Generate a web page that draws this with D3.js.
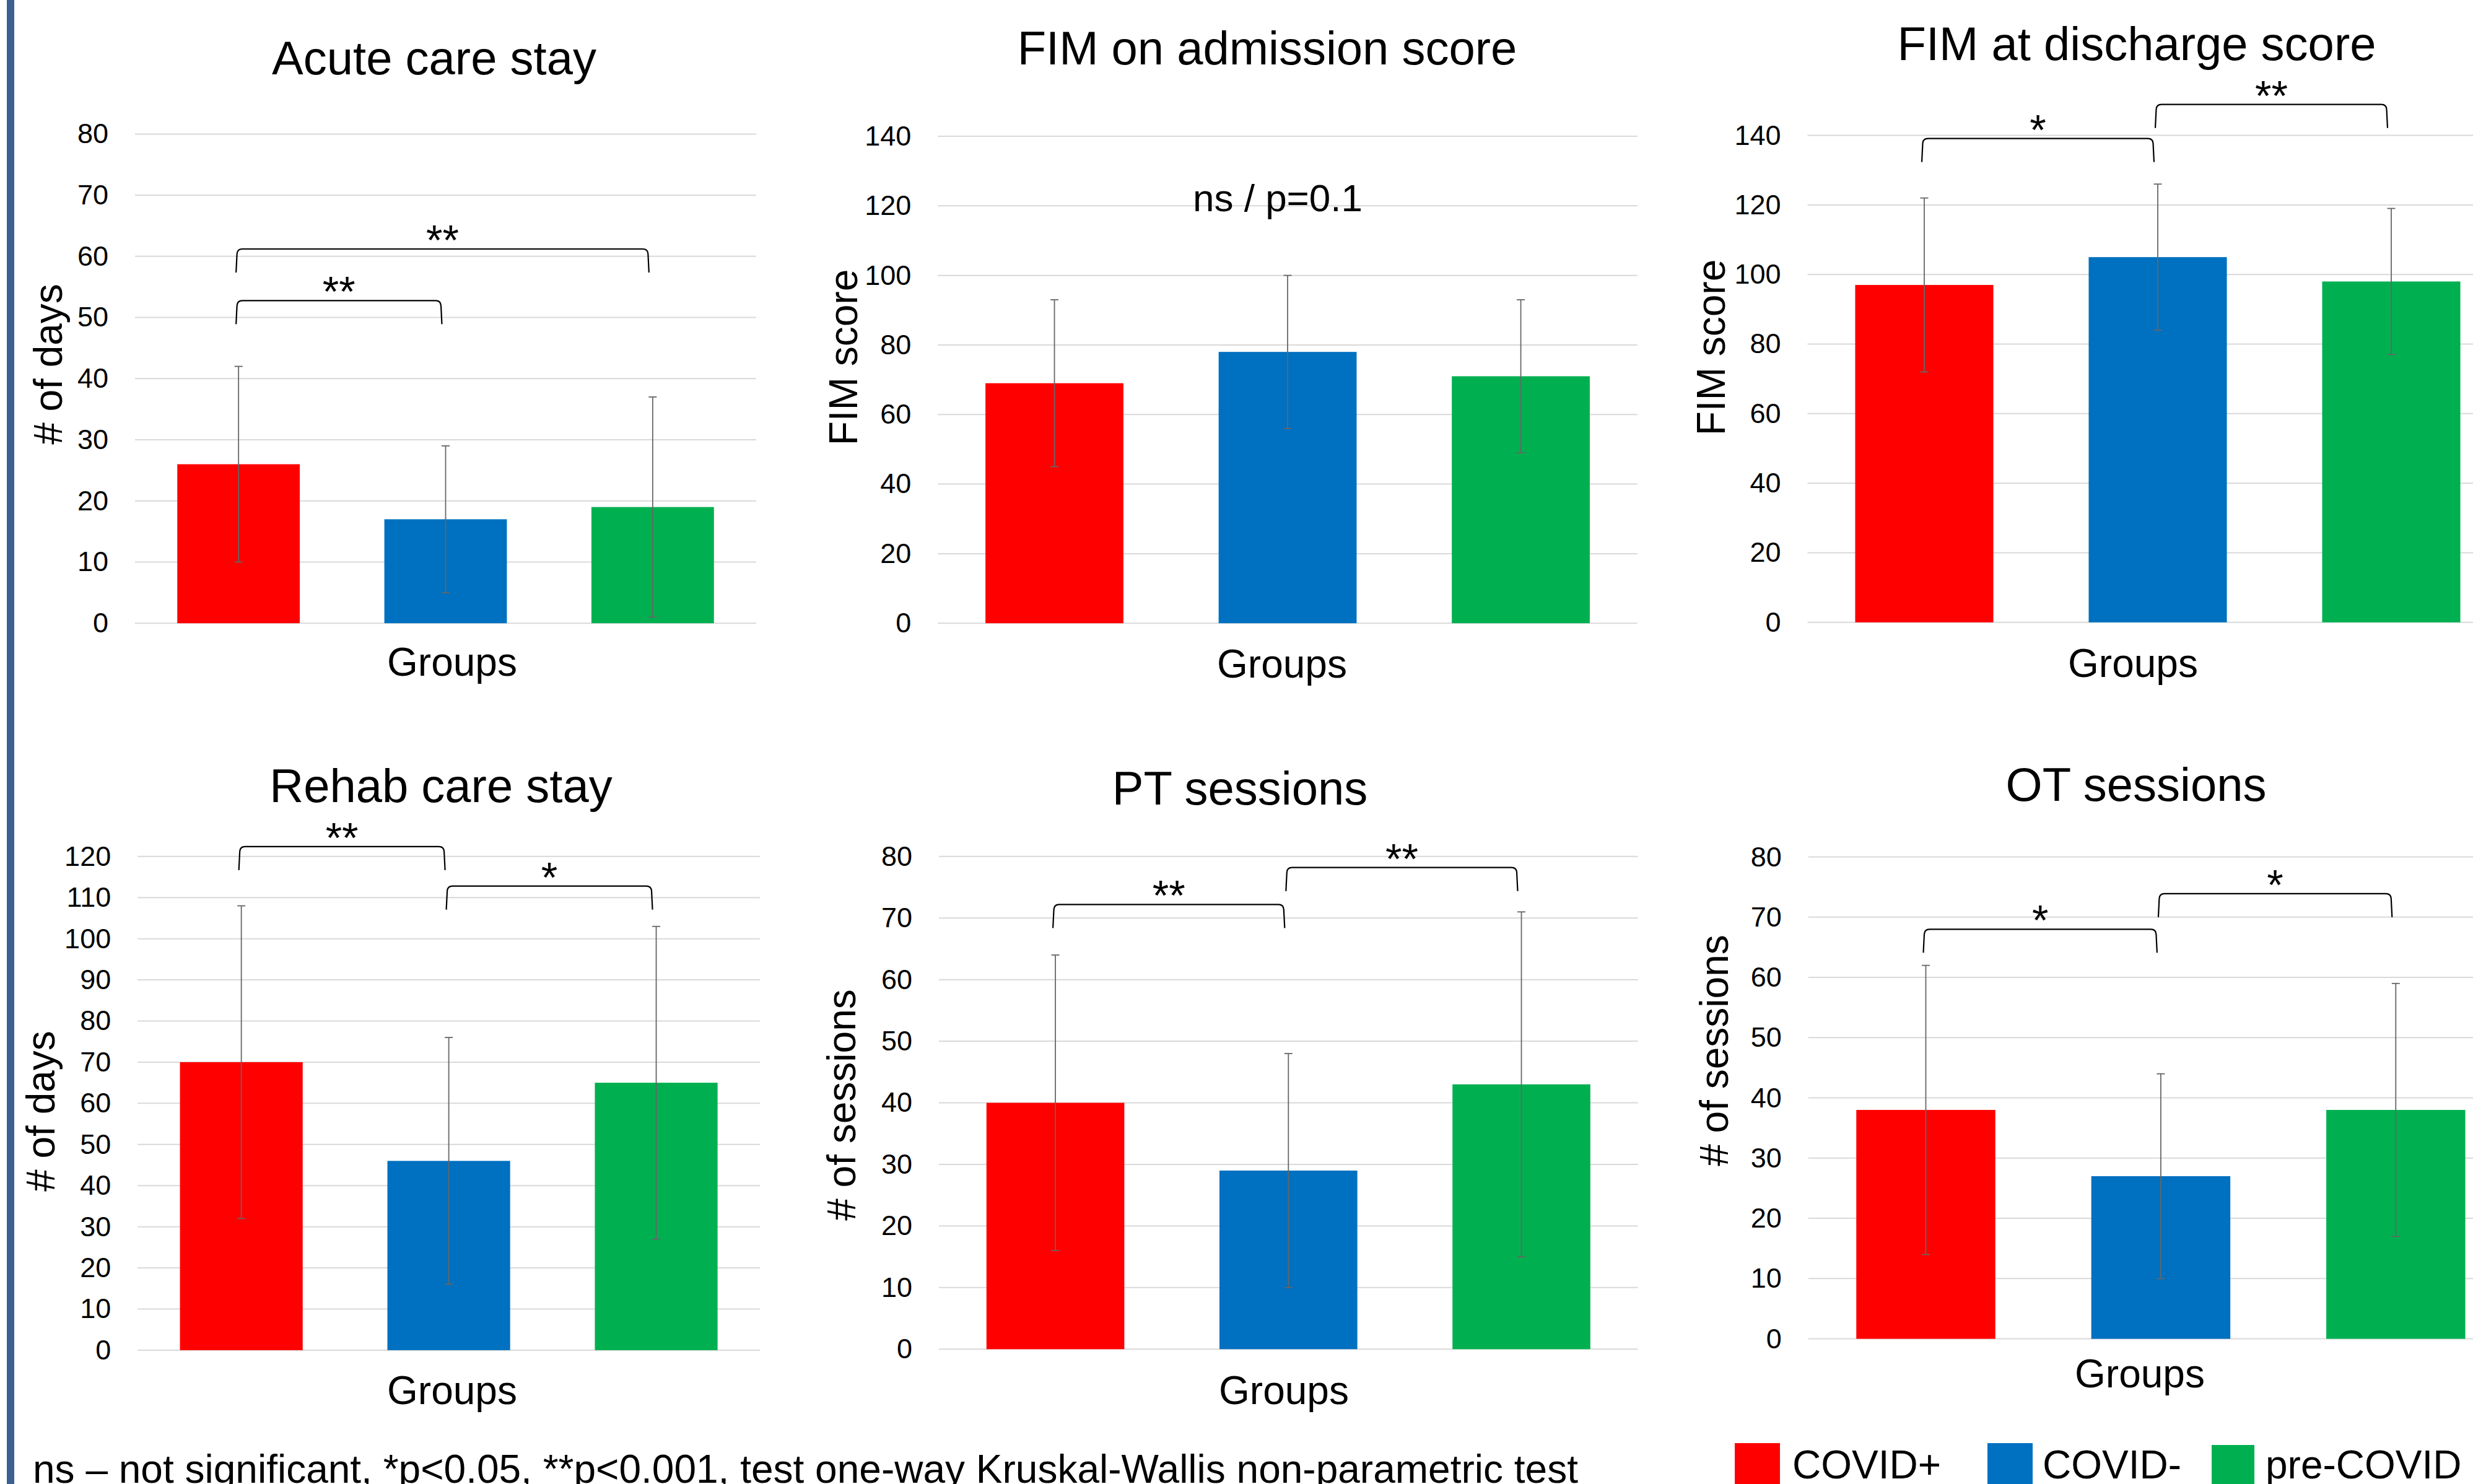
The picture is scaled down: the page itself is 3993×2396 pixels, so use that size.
<!DOCTYPE html>
<html>
<head>
<meta charset="utf-8">
<script src="https://cdn.jsdelivr.net/npm/d3@7"></script>
<style>
  html, body { margin: 0; padding: 0; background: #ffffff; }
  svg { display: block; }
  text { font-family: "Liberation Sans", Arial, Helvetica, sans-serif; fill: #000; }
</style>
</head>
<body>
<script>
// ---------------- DATA ----------------
const groups = ["COVID+", "COVID-", "pre-COVID"];
const groupColors = ["#FF0000", "#0070C0", "#00B050"];

const titles = ["Acute care stay", "FIM on admission score", "FIM at discharge score",
                "Rehab care stay", "PT sessions", "OT sessions"];
const yLabels = ["# of days", "FIM score", "FIM score", "# of days", "# of sessions", "# of sessions"];
const xLabel = "Groups";

const acuteMean  = [26, 17, 19];   const acuteSD  = [16, 12, 18];
const fimAdmMean = [69, 78, 71];   const fimAdmSD = [24, 22, 22];
const fimDisMean = [97, 105, 98];  const fimDisSD = [25, 21, 21];
const rehabMean  = [70, 46, 65];   const rehabSD  = [38, 30, 38];
const ptMean     = [40, 29, 43];   const ptSD     = [24, 19, 28];
const otMean     = [38, 27, 38];   const otSD     = [24, 17, 21];

const ticks80  = [0, 10, 20, 30, 40, 50, 60, 70, 80];
const ticks140 = [0, 20, 40, 60, 80, 100, 120, 140];
const ticks120 = [0, 10, 20, 30, 40, 50, 60, 70, 80, 90, 100, 110, 120];

// significance brackets: [fromGroup, toGroup, level (axis units), label]
const acuteBrackets  = [[0, 2, 61.2, "**"], [0, 1, 52.75, "**"]];
const fimAdmBrackets = [];
const fimDisBrackets = [[0, 1, 139.1, "*"], [1, 2, 148.9, "**"]];
const rehabBrackets  = [[0, 1, 122.4, "**"], [1, 2, 112.8, "*"]];
const ptBrackets     = [[0, 1, 72.2, "**"], [1, 2, 78.2, "**"]];
const otBrackets     = [[0, 1, 68.0, "*"], [1, 2, 73.9, "*"]];

const fimAdmNote = "ns / p=0.1";
const noteText = "ns \u2013 not significant, *p<0.05, **p<0.001, test one-way Kruskal-Wallis non-parametric test";

const panels = [
  { means: acuteMean,  sds: acuteSD,  ticks: ticks80,  brackets: acuteBrackets,  note: null },
  { means: fimAdmMean, sds: fimAdmSD, ticks: ticks140, brackets: fimAdmBrackets, note: fimAdmNote },
  { means: fimDisMean, sds: fimDisSD, ticks: ticks140, brackets: fimDisBrackets, note: null },
  { means: rehabMean,  sds: rehabSD,  ticks: ticks120, brackets: rehabBrackets,  note: null },
  { means: ptMean,     sds: ptSD,     ticks: ticks80,  brackets: ptBrackets,     note: null },
  { means: otMean,     sds: otSD,     ticks: ticks80,  brackets: otBrackets,     note: null }
];

// ---------------- LAYOUT ----------------
const W = 3993, H = 2396;
const layout = [
  { x0: 218,    x1: 1221,   yTop: 216.4,  yBot: 1006.2, tX: 701,  tY: 120,  gX: 730,  gY: 1091, lX: 100,  lY: 588 },
  { x0: 1514.3, x1: 2643.8, yTop: 220,    yBot: 1006.2, tX: 2046, tY: 104,  gX: 2070, gY: 1094, lX: 1384, lY: 577, nX: 2063, nY: 341 },
  { x0: 2918.5, x1: 4049.5, yTop: 218.6,  yBot: 1004.8, tX: 3450, tY: 97,   gX: 3444, gY: 1093, lX: 2785, lY: 561 },
  { x0: 222.2,  x1: 1227,   yTop: 1382.8, yBot: 2179.9, tX: 712,  tY: 1295, gX: 730,  gY: 2267, lX: 88,   lY: 1794 },
  { x0: 1516,   x1: 2644.6, yTop: 1382.8, yBot: 2178.3, tX: 2002, tY: 1299, gX: 2073, gY: 2267, lX: 1381, lY: 1784 },
  { x0: 2919.8, x1: 4058,   yTop: 1383.6, yBot: 2161.6, tX: 3449, tY: 1293, gX: 3455, gY: 2240, lX: 2790, lY: 1696 }
];
const legendLayout = [
  { sx: 2801, sy: 2330, sw: 73, tx: 2894 },
  { sx: 3209, sy: 2330, sw: 73, tx: 3298 },
  { sx: 3571, sy: 2333, sw: 69, tx: 3658 }
];

const svg = d3.select("body").append("svg")
  .attr("width", W).attr("height", H).attr("viewBox", `0 0 ${W} ${H}`);

svg.append("rect").attr("width", W).attr("height", H).attr("fill", "#ffffff");

// left border stripe
svg.append("rect").attr("x", 11).attr("y", 0).attr("width", 12).attr("height", H).attr("fill", "#3A6191");

panels.forEach((p, i) => {
  const L = layout[i];
  const g = svg.append("g");
  const yMax = p.ticks[p.ticks.length - 1];
  const y = d3.scaleLinear().domain([0, yMax]).range([L.yBot, L.yTop]);
  const x = d3.scaleBand().domain(groups).range([L.x0, L.x1])
    .paddingInner(0.4083).paddingOuter(0.2041);

  // gridlines
  g.append("g").selectAll("line").data(p.ticks).join("line")
    .attr("x1", L.x0).attr("x2", L.x1)
    .attr("y1", d => y(d)).attr("y2", d => y(d))
    .attr("stroke", "#d9d9d9").attr("stroke-width", 2);

  // y axis labels
  const ax = g.append("g").attr("transform", `translate(${L.x0},0)`)
    .call(d3.axisLeft(y).tickValues(p.ticks).tickSize(0).tickPadding(43).tickFormat(d3.format("d")));
  ax.select(".domain").remove();
  ax.selectAll("text").attr("font-size", 45)
    .attr("font-family", '"Liberation Sans", Arial, sans-serif').attr("fill", "#000");

  // bars
  g.append("g").selectAll("rect").data(groups).join("rect")
    .attr("x", d => x(d)).attr("width", x.bandwidth())
    .attr("y", (d, k) => y(p.means[k]))
    .attr("height", (d, k) => y(0) - y(p.means[k]))
    .attr("fill", (d, k) => groupColors[k]);

  // error bars
  const eb = g.append("g").attr("stroke", "#666666").attr("stroke-width", 1.8);
  groups.forEach((d, k) => {
    const cx = x(d) + x.bandwidth() / 2;
    const hi = y(p.means[k] + p.sds[k]), lo = y(p.means[k] - p.sds[k]);
    eb.append("line").attr("x1", cx).attr("x2", cx).attr("y1", hi).attr("y2", lo);
    eb.append("line").attr("x1", cx - 6.5).attr("x2", cx + 6.5).attr("y1", hi).attr("y2", hi);
    eb.append("line").attr("x1", cx - 6.5).attr("x2", cx + 6.5).attr("y1", lo).attr("y2", lo);
  });

  // significance brackets
  const drop = 38, r = 8;
  p.brackets.forEach(b => {
    const xl = x(groups[b[0]]) + x.bandwidth() / 2 - 4;
    const xr = x(groups[b[1]]) + x.bandwidth() / 2 - 6;
    const yl = y(b[2]);
    const path = d3.path();
    path.moveTo(xl, yl + drop);
    path.lineTo(xl + 1.5, yl + r);
    path.quadraticCurveTo(xl + 2, yl, xl + r + 2, yl);
    path.lineTo(xr - r - 2, yl);
    path.quadraticCurveTo(xr - 2, yl, xr - 1.5, yl + r);
    path.lineTo(xr, yl + drop);
    g.append("path").attr("d", path.toString()).attr("fill", "none")
      .attr("stroke", "#000").attr("stroke-width", 2.2);
    g.append("text").attr("x", (xl + xr) / 2).attr("y", yl - 30 + 0.573 * 68)
      .attr("text-anchor", "middle").attr("font-size", 68).text(b[3]);
  });

  if (p.note) {
    g.append("text").attr("x", L.nX).attr("y", L.nY).attr("text-anchor", "middle")
      .attr("font-size", 62).text(p.note);
  }

  // title
  g.append("text").attr("x", L.tX).attr("y", L.tY).attr("text-anchor", "middle")
    .attr("font-size", 76).text(titles[i]);
  // x axis title
  g.append("text").attr("x", L.gX).attr("y", L.gY).attr("text-anchor", "middle")
    .attr("font-size", 64).text(xLabel);
  // y axis title
  g.append("text").attr("transform", `translate(${L.lX},${L.lY}) rotate(-90)`)
    .attr("text-anchor", "middle").attr("font-size", 64).text(yLabels[i]);
});

// legend
const lg = svg.append("g");
groups.forEach((d, k) => {
  const LL = legendLayout[k];
  lg.append("rect").attr("x", LL.sx).attr("y", LL.sy).attr("width", LL.sw).attr("height", LL.sw)
    .attr("fill", groupColors[k]);
  lg.append("text").attr("x", LL.tx).attr("y", 2387).attr("font-size", 64).text(d);
});

// footnote
svg.append("text").attr("x", 53).attr("y", 2394).attr("font-size", 64).text(noteText);
</script>
</body>
</html>
